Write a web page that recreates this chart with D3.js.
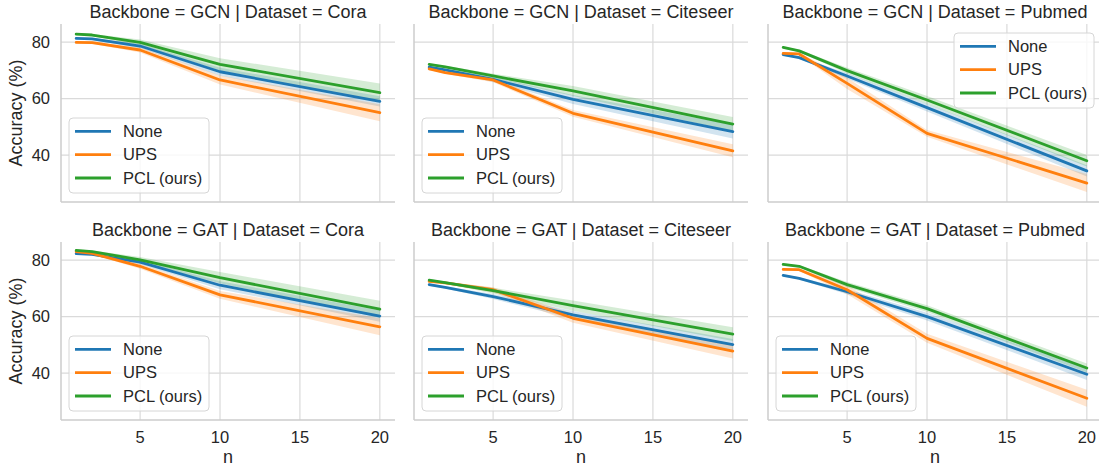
<!DOCTYPE html>
<html>
<head>
<meta charset="utf-8">
<script src="https://cdn.jsdelivr.net/npm/d3@7"></script>
<style>
	body { margin: 0; background: #fff; }
	svg { display: block; font-family: "Liberation Sans", Arial, sans-serif; }
	text { fill: #262626; }
</style>
</head>
<body>
<div id="chart"></div>
<script>
const nValues = [1, 2, 5, 10, 20];
const backbones = ["GCN", "GAT"];
const datasets = ["Cora", "Citeseer", "Pubmed"];
const methods = ["None", "UPS", "PCL (ours)"];
const xTicks = [5, 10, 15, 20];
const yTicks = [40, 60, 80];

// mean accuracy, one array per method (None, UPS, PCL)
const gcnCora = [
	[81.3, 81.1, 78.6, 69.5, 59.0],
	[79.9, 79.8, 77.2, 66.6, 55.0],
	[82.8, 82.5, 79.9, 72.1, 62.1],
];
const gcnCiteseer = [
	[71.1, 70.2, 66.8, 59.7, 48.3],
	[70.5, 69.2, 66.6, 54.8, 41.5],
	[72.1, 71.2, 68.0, 62.7, 51.0],
];
const gcnPubmed = [
	[75.6, 74.5, 68.0, 56.8, 34.4],
	[76.0, 75.8, 65.4, 47.7, 30.1],
	[78.1, 76.9, 69.9, 59.5, 38.0],
];
const gatCora = [
	[82.3, 82.0, 79.3, 71.1, 60.2],
	[83.0, 82.4, 77.8, 67.7, 56.4],
	[83.4, 83.0, 80.1, 73.8, 62.6],
];
const gatCiteseer = [
	[71.3, 70.3, 67.1, 60.6, 50.1],
	[72.5, 71.9, 69.5, 59.4, 47.8],
	[72.9, 72.0, 69.2, 63.9, 53.8],
];
const gatPubmed = [
	[74.6, 73.5, 68.8, 60.0, 39.6],
	[76.7, 76.6, 69.5, 52.3, 31.1],
	[78.5, 77.8, 71.3, 62.8, 41.8],
];

// half width of the confidence band
const gcnCoraCi = [
	[0.4, 0.4, 0.8, 1.4, 1.8],
	[0.4, 0.4, 0.9, 1.6, 3.0],
	[0.4, 0.4, 1.0, 2.2, 3.2],
];
const gcnCiteseerCi = [
	[0.4, 0.4, 0.9, 1.6, 2.4],
	[0.4, 0.4, 0.8, 1.2, 2.3],
	[0.4, 0.4, 0.8, 1.8, 2.5],
];
const gcnPubmedCi = [
	[0.4, 0.4, 1.0, 1.4, 2.0],
	[0.4, 0.4, 2.0, 1.2, 3.2],
	[0.4, 0.4, 1.0, 1.4, 2.0],
];
const gatCoraCi = [
	[0.4, 0.4, 0.8, 1.4, 2.0],
	[0.4, 0.4, 0.9, 1.4, 3.0],
	[0.4, 0.4, 1.0, 2.0, 3.0],
];
const gatCiteseerCi = [
	[0.4, 0.4, 0.9, 1.4, 2.0],
	[0.4, 0.4, 0.9, 1.6, 2.6],
	[0.4, 0.4, 1.0, 1.8, 2.4],
];
const gatPubmedCi = [
	[0.4, 0.4, 0.9, 1.4, 2.0],
	[0.4, 0.4, 1.6, 1.6, 3.0],
	[0.4, 0.4, 0.9, 1.2, 1.6],
];

const panels = [
	{ backbone: 0, dataset: 0, mean: gcnCora, ci: gcnCoraCi, legend: "lower left" },
	{ backbone: 0, dataset: 1, mean: gcnCiteseer, ci: gcnCiteseerCi, legend: "lower left" },
	{ backbone: 0, dataset: 2, mean: gcnPubmed, ci: gcnPubmedCi, legend: "upper right" },
	{ backbone: 1, dataset: 0, mean: gatCora, ci: gatCoraCi, legend: "lower left" },
	{ backbone: 1, dataset: 1, mean: gatCiteseer, ci: gatCiteseerCi, legend: "lower left" },
	{ backbone: 1, dataset: 2, mean: gatPubmed, ci: gatPubmedCi, legend: "lower left" },
];

const colors = ["#1f77b4", "#ff7f0e", "#2ca02c"];
const width = 1099, height = 466;
const colLeft = [61, 414, 768];
const rowTop = [24, 242];
const plotW = 334, plotH = 178;

const x = d3.scaleLinear().domain([0.05, 20.95]).range([0, plotW]);
const y = d3.scaleLinear().domain([23.4, 86.4]).range([plotH, 0]);

const svg = d3.select("#chart")
	.append("svg")
		.attr("width", width)
		.attr("height", height);

const line = d3.line()
	.x(d => x(d.n))
	.y(d => y(d.v));
const area = d3.area()
	.x(d => x(d.n))
	.y0(d => y(d.v - d.ci))
	.y1(d => y(d.v + d.ci));

for (let p of panels) {
	let left = colLeft[p.dataset], top = rowTop[p.backbone];
	let g = svg.append("g")
		.attr("transform", `translate(${left}, ${top})`);

	// grid
	g.append("g")
		.selectAll("line")
		.data(xTicks)
		.enter()
		.append("line")
			.attr("x1", d => x(d))
			.attr("x2", d => x(d))
			.attr("y1", 0)
			.attr("y2", plotH)
			.attr("stroke", "#dadada")
			.attr("stroke-width", 1.2);
	g.append("g")
		.selectAll("line")
		.data(yTicks)
		.enter()
		.append("line")
			.attr("x1", 0)
			.attr("x2", plotW)
			.attr("y1", d => y(d))
			.attr("y2", d => y(d))
			.attr("stroke", "#dadada")
			.attr("stroke-width", 1.2);

	// spines
	g.append("line")
		.attr("x1", 0).attr("x2", 0)
		.attr("y1", 0).attr("y2", plotH)
		.attr("stroke", "#cccccc").attr("stroke-width", 1.5);
	g.append("line")
		.attr("x1", 0).attr("x2", plotW)
		.attr("y1", plotH).attr("y2", plotH)
		.attr("stroke", "#cccccc").attr("stroke-width", 1.5);

	let series = p.mean.map((vals, m) => vals.map((v, i) => ({ n: nValues[i], v: v, ci: p.ci[m][i] })));

	g.append("g")
		.selectAll("path")
		.data(series)
		.enter()
		.append("path")
			.attr("d", area)
			.attr("fill", (d, i) => colors[i])
			.attr("fill-opacity", 0.2);
	g.append("g")
		.selectAll("path")
		.data(series)
		.enter()
		.append("path")
			.attr("d", line)
			.attr("fill", "none")
			.attr("stroke", (d, i) => colors[i])
			.attr("stroke-width", 2.8)
			.attr("stroke-linejoin", "round")
			.attr("stroke-linecap", "round");

	// title
	g.append("text")
		.attr("x", plotW / 2)
		.attr("y", -6)
		.attr("text-anchor", "middle")
		.style("font-size", "18px")
		.text(`Backbone = ${backbones[p.backbone]} | Dataset = ${datasets[p.dataset]}`);

	if (p.dataset == 0) {
		g.append("g")
			.selectAll("text")
			.data(yTicks)
			.enter()
			.append("text")
				.attr("x", -11)
				.attr("y", d => y(d))
				.attr("dy", "0.35em")
				.attr("text-anchor", "end")
				.style("font-size", "16.5px")
				.text(d => d);
		g.append("text")
			.attr("transform", `translate(${16 - left}, ${plotH / 2}) rotate(-90)`)
			.attr("dy", "0.35em")
			.attr("text-anchor", "middle")
			.style("font-size", "18px")
			.text("Accuracy (%)");
	}

	if (p.backbone == 1) {
		g.append("g")
			.selectAll("text")
			.data(xTicks)
			.enter()
			.append("text")
				.attr("x", d => x(d))
				.attr("y", plotH + 23)
				.attr("text-anchor", "middle")
				.style("font-size", "16.5px")
				.text(d => d);
		g.append("text")
			.attr("x", plotW / 2)
			.attr("y", plotH + 43)
			.attr("text-anchor", "middle")
			.style("font-size", "18px")
			.text("n");
	}

	// legend
	const legendW = 140, legendH = 75;
	let lx = p.legend == "upper right" ? plotW - 8 - legendW : 8;
	let ly = p.legend == "upper right" ? 9 : plotH - 9 - legendH;
	let legend = g.append("g")
		.attr("class", "legend")
		.attr("transform", `translate(${lx}, ${ly})`);
	legend.append("rect")
		.attr("width", legendW)
		.attr("height", legendH)
		.attr("rx", 4)
		.attr("fill", "#fff")
		.attr("fill-opacity", 0.8)
		.attr("stroke", "#d6d6d6")
		.attr("stroke-width", 1);
	let items = legend.selectAll("g.item")
		.data(methods)
		.enter()
		.append("g")
			.attr("class", "item")
			.attr("transform", (d, i) => `translate(0, ${13.4 + i * 23.3})`);
	items.append("line")
		.attr("x1", 6)
		.attr("x2", 42)
		.attr("stroke", (d, i) => colors[i])
		.attr("stroke-width", 2.8);
	items.append("text")
		.attr("x", 54)
		.attr("dy", "0.35em")
		.style("font-size", "16.5px")
		.text(d => d);
}
</script>
</body>
</html>
